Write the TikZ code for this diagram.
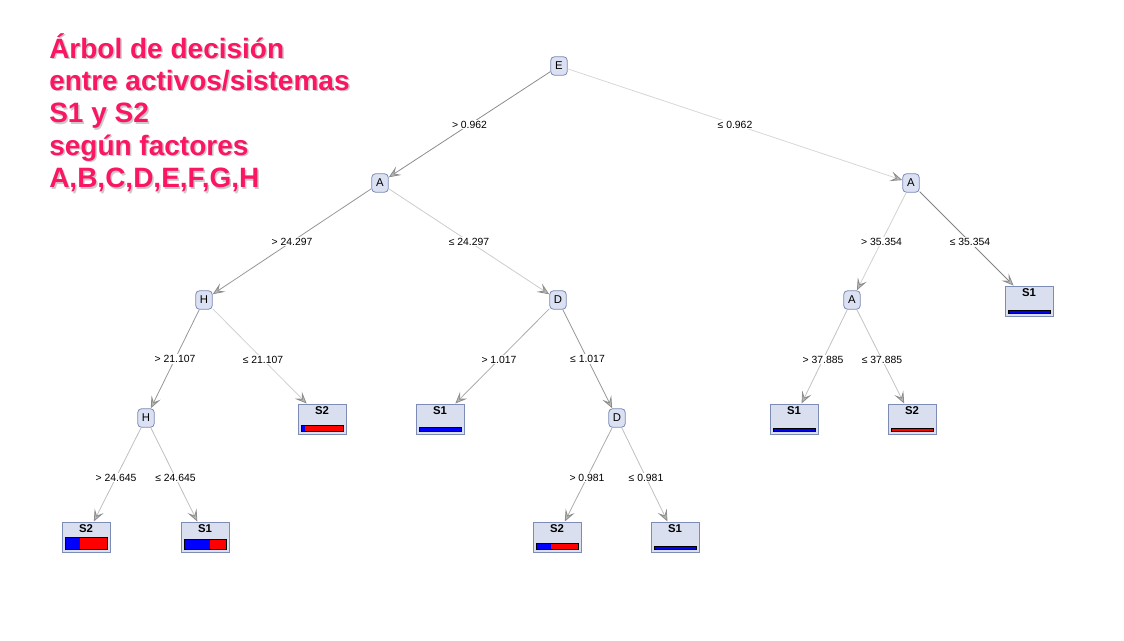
\documentclass[tikz,border=0pt]{standalone}
\usepackage{fontspec}
\setmainfont{Liberation Sans}
\usetikzlibrary{arrows.meta,calc}
\definecolor{nodefill}{RGB}{219,225,243}
\definecolor{nodedraw}{RGB}{125,140,180}
\definecolor{leaffill}{RGB}{218,223,240}
\definecolor{titlepink}{RGB}{250,22,100}
\definecolor{barblue}{RGB}{0,0,255}
\definecolor{barred}{RGB}{255,0,0}
\newcommand{\leafbox}[6]{%
  \node[leaf] (#1) at (#2,#3) {};
  \node[leaftext] (#1t) at (#2,#3-8) {#4};
  \fill[barblue] (#2-21,#3+12-#6) rectangle (#2-21+42*#5,#3+12);
  \fill[barred] (#2-21+42*#5,#3+12-#6) rectangle (#2+21,#3+12);
  \draw[line width=0.6pt] (#2-21,#3+12-#6) rectangle (#2+21,#3+12);
}
\begin{document}
\begin{tikzpicture}[x=0.75pt,y=-0.75pt,
  inner/.style={draw=nodedraw, fill=nodefill, rounded corners=3pt, minimum width=12.5pt, minimum height=14pt, inner sep=0pt, line width=0.6pt, font=\fontsize{8.5}{9}\selectfont},
  leaf/.style={draw=nodedraw, fill=leaffill, minimum width=36pt, minimum height=22.5pt, inner sep=0pt, line width=0.7pt},
  leaftext/.style={font=\bfseries\fontsize{8.5}{9}\selectfont, inner sep=0pt},
  elabel/.style={fill=white, inner sep=0.8pt, font=\fontsize{7.8}{9}\selectfont},
  edge/.style={-{Stealth[length=9pt,width=7.5pt,inset=4pt,fill=black!28,color=black!45]}, line width=0.6pt},
  title/.style={anchor=north west, align=left, inner sep=0pt, font=\bfseries\fontsize{21}{24.3}\selectfont}
]
\useasboundingbox (0,0) rectangle (1124,640);

% title
\node[title, text=black!35, opacity=0.6] (titleshadow) at (50.5,34.5) {Árbol de decisión\\entre activos/sistemas\\S1 y S2\\según factores\\A,B,C,D,E,F,G,H};
\node[title, text=titlepink] (title) at (49,33) {Árbol de decisión\\entre activos/sistemas\\S1 y S2\\según factores\\A,B,C,D,E,F,G,H};

% internal nodes
\node[inner] (E) at (559,66) {E};
\node[inner] (A1) at (380,183) {A};
\node[inner] (A2) at (911,183) {A};
\node[inner] (H1) at (204,300) {H};
\node[inner] (D1) at (558,300) {D};
\node[inner] (A3) at (852,300) {A};
\node[inner] (H2) at (146,418) {H};
\node[inner] (D2) at (617,418) {D};

% leaves
\leafbox{L1}{1029}{301}{S1}{1}{3}
\leafbox{L2}{322}{419}{S2}{0.1}{6}
\leafbox{L3}{440}{419}{S1}{1}{4}
\leafbox{L4}{794}{419}{S1}{1}{3}
\leafbox{L5}{912}{419}{S2}{0}{3}
\leafbox{L6}{86}{537}{S2}{0.35}{12}
\leafbox{L7}{205}{537}{S1}{0.62}{10}
\leafbox{L8}{557}{537}{S2}{0.35}{6}
\leafbox{L9}{675}{537}{S1}{1}{3}

% edges
\draw[edge, draw=black!45] (E) -- (A1);
\draw[edge, draw=black!16] (E) -- (A2);
\draw[edge, draw=black!41] (A1) -- (H1);
\draw[edge, draw=black!20] (A1) -- (D1);
\draw[edge, draw=black!41] (H1) -- (H2);
\draw[edge, draw=black!18] (H1) -- (L2);
\draw[edge, draw=black!25] (H2) -- (L6);
\draw[edge, draw=black!25] (H2) -- (L7);
\draw[edge, draw=black!33] (D1) -- (L3);
\draw[edge, draw=black!41] (D1) -- (D2);
\draw[edge, draw=black!33] (D2) -- (L8);
\draw[edge, draw=black!25] (D2) -- (L9);
\draw[edge, draw=black!18] (A2) -- (A3);
\draw[edge, draw=black!49] (A2) -- (L1);
\draw[edge, draw=black!24] (A3) -- (L4);
\draw[edge, draw=black!24] (A3) -- (L5);

% edge labels
\node[elabel] (e1) at ($(E)!0.5!(A1)$) {> 0.962};
\node[elabel] (e2) at ($(E)!0.5!(A2)$) {≤ 0.962};
\node[elabel] (e3) at ($(A1)!0.5!(H1)$) {> 24.297};
\node[elabel] (e4) at ($(A1)!0.5!(D1)$) {≤ 24.297};
\node[elabel] (e5) at ($(H1)!0.5!(H2)$) {> 21.107};
\node[elabel] (e6) at ($(H1)!0.5!(L2)$) {≤ 21.107};
\node[elabel] (e7) at ($(H2)!0.5!(L6)$) {> 24.645};
\node[elabel] (e8) at ($(H2)!0.5!(L7)$) {≤ 24.645};
\node[elabel] (e9) at ($(D1)!0.5!(L3)$) {> 1.017};
\node[elabel] (e10) at ($(D1)!0.5!(D2)$) {≤ 1.017};
\node[elabel] (e11) at ($(D2)!0.5!(L8)$) {> 0.981};
\node[elabel] (e12) at ($(D2)!0.5!(L9)$) {≤ 0.981};
\node[elabel] (e13) at ($(A2)!0.5!(A3)$) {> 35.354};
\node[elabel] (e14) at ($(A2)!0.5!(L1)$) {≤ 35.354};
\node[elabel] (e15) at ($(A3)!0.5!(L4)$) {> 37.885};
\node[elabel] (e16) at ($(A3)!0.5!(L5)$) {≤ 37.885};
\end{tikzpicture}
\end{document}
